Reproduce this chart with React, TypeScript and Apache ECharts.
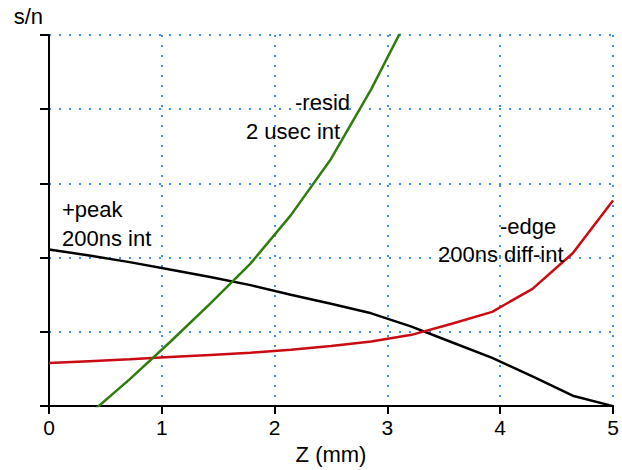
import React, { useEffect, useRef } from "react";
import * as echarts from "echarts";

// x positions (mm) — 15 evenly spaced samples from 0 to 5
const zValues = [0, 0.357, 0.714, 1.071, 1.429, 1.786, 2.143, 2.5, 2.857, 3.214, 3.571, 3.929, 4.286, 4.643, 5];
const xTicks = ["0", "1", "2", "3", "4", "5"];

const peakSN = [2.11, 2.03, 1.94, 1.84, 1.74, 1.63, 1.5, 1.38, 1.25, 1.07, 0.86, 0.65, 0.4, 0.14, 0];
const edgeSN = [0.58, 0.605, 0.63, 0.66, 0.69, 0.72, 0.76, 0.81, 0.87, 0.96, 1.11, 1.27, 1.58, 2.06, 2.77];
const residZ = [0.357, 0.714, 1.071, 1.429, 1.786, 2.143, 2.5, 2.857, 3.214];
const residSN = [-0.11, 0.36, 0.86, 1.38, 1.92, 2.57, 3.33, 4.27, 5.33];

const labels = [
  { text: "+peak", x: 62, y: 209 },
  { text: "200ns int", x: 62, y: 238 },
  { text: "-resid", x: 295, y: 102 },
  { text: "2 usec int", x: 246, y: 131 },
  { text: "-edge", x: 500, y: 226 },
  { text: "200ns diff-int", x: 438, y: 254 },
];

const FONT = "Liberation Sans, Arial, Helvetica, sans-serif";
const GRID_COLOR = "#3f8ef5";

export default function App() {
  const ref = useRef<HTMLDivElement>(null);
  useEffect(() => {
    if (!ref.current) return;
    const chart = echarts.init(ref.current, null, { renderer: "svg", width: 622, height: 470 });
    const splitLine = {
      show: true,
      lineStyle: { color: GRID_COLOR, width: 2, type: [2, 8] as any },
    };
    chart.setOption({
      animation: false,
      backgroundColor: "#fff",
      textStyle: { fontFamily: FONT },
      grid: { left: 49, top: 35, width: 564, height: 379 },
      xAxis: {
        type: "value",
        min: 0,
        max: 5,
        interval: 1,
        name: "Z (mm)",
        nameLocation: "middle",
        nameGap: 35,
        nameTextStyle: { color: "#000", fontSize: 22, fontFamily: FONT },
        axisLine: { show: true, onZero: false, lineStyle: { color: "#000", width: 2 } },
        axisTick: { show: true, length: 8, lineStyle: { color: "#000", width: 2 } },
        axisLabel: {
          color: "#000",
          fontSize: 21,
          fontFamily: FONT,
          margin: 11,
          formatter: (v: number) => xTicks[Math.round(v)] ?? String(v),
        },
        splitLine,
      },
      yAxis: {
        type: "value",
        min: 0,
        max: 5,
        interval: 1,
        name: "s/n",
        nameLocation: "end",
        nameGap: 8,
        nameTextStyle: {
          color: "#000",
          fontSize: 22,
          fontFamily: FONT,
          align: "right",
          verticalAlign: "bottom",
          padding: [0, 6, 0, 0],
        },
        axisLine: { show: true, lineStyle: { color: "#000", width: 2 } },
        axisTick: { show: true, length: 9, lineStyle: { color: "#000", width: 2 } },
        axisLabel: { show: false },
        splitLine,
      },
      series: [
        {
          name: "+peak 200ns int",
          type: "line",
          data: zValues.map((z, i) => [z, peakSN[i]]),
          showSymbol: false,
          clip: true,
          lineStyle: { color: "#000", width: 2.5 },
        },
        {
          name: "-edge 200ns diff-int",
          type: "line",
          data: zValues.map((z, i) => [z, edgeSN[i]]),
          showSymbol: false,
          clip: true,
          lineStyle: { color: "#cc0a12", width: 2.5 },
        },
        {
          name: "-resid 2 usec int",
          type: "line",
          data: residZ.map((z, i) => [z, residSN[i]]),
          showSymbol: false,
          clip: true,
          lineStyle: { color: "#2f7d0c", width: 2.5 },
        },
      ],
      graphic: labels.map((l) => ({
        type: "text",
        x: l.x,
        y: l.y,
        style: {
          text: l.text,
          fill: "#000",
          font: `22px ${FONT}`,
          textAlign: "left",
          textVerticalAlign: "middle",
          verticalAlign: "middle",
        },
        z: 10,
      })),
    });
    return () => chart.dispose();
  }, []);
  return <div ref={ref} style={{ width: 622, height: 470, position: "absolute", left: 0, top: 0 }} />;
}
